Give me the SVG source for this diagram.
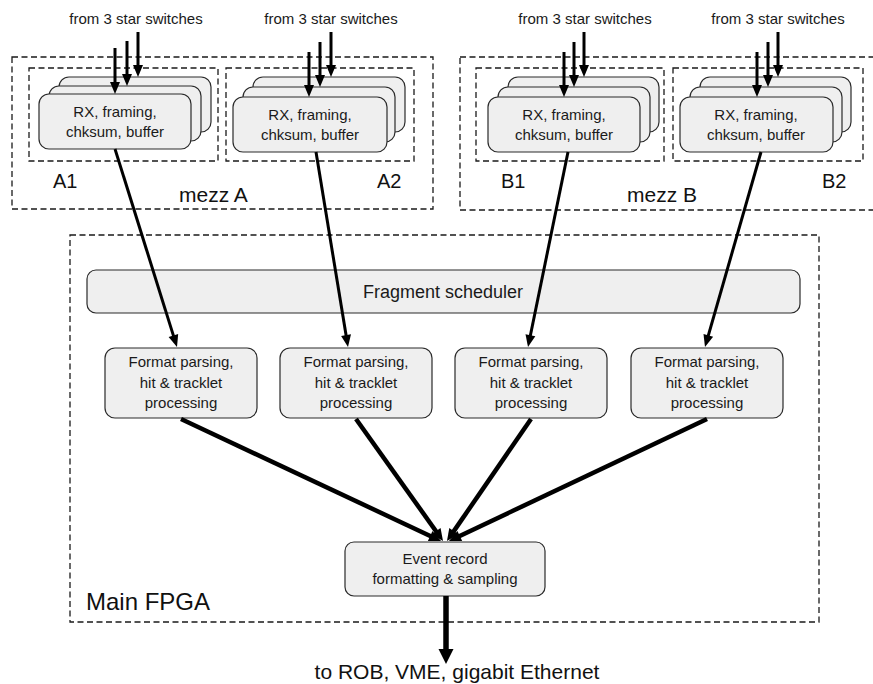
<svg xmlns="http://www.w3.org/2000/svg" width="873" height="684" viewBox="0 0 873 684">
<style>
.bg{fill:#ffffff}
.dash{fill:none;stroke:#1a1a1a;stroke-width:1.3;stroke-dasharray:6 3.5}
.box{fill:#efefef;stroke:#2a2a2a;stroke-width:1.2}
.t{font-family:"Liberation Sans",Arial,sans-serif;fill:#1a1a1a;text-anchor:middle}
.s15{font-size:15px}
.s18{font-size:18px}
.lab{font-family:"Liberation Sans",Arial,sans-serif;fill:#111;font-size:21px}
.thin{stroke:#000;stroke-width:3;fill:none}
.mid{stroke:#000;stroke-width:3;fill:none}
.thick{stroke:#000;stroke-width:4.5;fill:none}
.out{stroke:#000;stroke-width:5.5;fill:none}
</style>
<defs>
<marker id="ah" markerUnits="userSpaceOnUse" markerWidth="12" markerHeight="10" refX="4" refY="5" orient="auto" overflow="visible"><path d="M0,0 L12,5 L0,10 z" fill="#000"/></marker>
<marker id="ahT" markerUnits="userSpaceOnUse" markerWidth="12" markerHeight="11" refX="3" refY="5.5" orient="auto" overflow="visible"><path d="M0,0 L12,5.5 L0,11 z" fill="#000"/></marker>
<marker id="ahO" markerUnits="userSpaceOnUse" markerWidth="15" markerHeight="15" refX="1" refY="7.5" orient="auto" overflow="visible"><path d="M0,0 L15,7.5 L0,15 z" fill="#000"/></marker>
</defs>
<rect class="bg" x="0" y="0" width="873" height="684"/>

<g id="mezzA">
<rect class="dash" x="12" y="57" width="421" height="152"/>
<text class="lab" x="179" y="202">mezz A</text>
</g>
<g id="mezzB">
<rect class="dash" x="460" y="57" width="430" height="153"/>
<text class="lab" x="627" y="202">mezz B</text>
</g>
<g id="mainFPGA">
<rect class="dash" x="70" y="235" width="749" height="387"/>
<text class="lab" x="86" y="610" style="font-size:24px">Main FPGA</text>
</g>

<g id="A1">
<rect class="dash" x="29" y="68" width="189" height="93"/>
<rect class="box" x="59" y="77" width="152" height="55" rx="10"/>
<rect class="box" x="49" y="86" width="152" height="55" rx="10"/>
<rect class="box" x="39" y="94" width="152" height="55" rx="10"/>
<text class="t s15" x="115" y="117">RX, framing,</text>
<text class="t s15" x="115" y="137">chksum, buffer</text>
<text class="lab" x="53" y="188" style="font-size:20px">A1</text>
<text class="t s15" x="136" y="24">from 3 star switches</text>
</g>
<g id="A2">
<rect class="dash" x="226" y="68" width="188" height="93"/>
<rect class="box" x="253" y="77" width="152" height="55" rx="10"/>
<rect class="box" x="243" y="87" width="152" height="55" rx="10"/>
<rect class="box" x="233" y="97" width="154" height="55" rx="10"/>
<text class="t s15" x="310" y="120">RX, framing,</text>
<text class="t s15" x="310" y="140">chksum, buffer</text>
<text class="lab" x="377" y="188" style="font-size:20px">A2</text>
<text class="t s15" x="331" y="24">from 3 star switches</text>
</g>
<g id="B1">
<rect class="dash" x="476" y="68" width="188" height="93"/>
<rect class="box" x="508" y="77" width="151" height="55" rx="10"/>
<rect class="box" x="498" y="87" width="152" height="55" rx="10"/>
<rect class="box" x="488" y="97" width="152" height="55" rx="10"/>
<text class="t s15" x="564" y="120">RX, framing,</text>
<text class="t s15" x="564" y="140">chksum, buffer</text>
<text class="lab" x="501" y="188" style="font-size:20px">B1</text>
<text class="t s15" x="585" y="24">from 3 star switches</text>
</g>
<g id="B2">
<rect class="dash" x="673" y="68" width="190" height="93"/>
<rect class="box" x="700" y="77" width="151" height="55" rx="10"/>
<rect class="box" x="690" y="87" width="152" height="55" rx="10"/>
<rect class="box" x="680" y="97" width="153" height="55" rx="10"/>
<text class="t s15" x="756" y="120">RX, framing,</text>
<text class="t s15" x="756" y="140">chksum, buffer</text>
<text class="lab" x="822" y="188" style="font-size:20px">B2</text>
<text class="t s15" x="778" y="24">from 3 star switches</text>
</g>

<g id="scheduler">
<rect class="box" x="87" y="270" width="713" height="43" rx="9"/>
<text class="t s18" x="443" y="298">Fragment scheduler</text>
</g>
<g id="fmt1">
<rect class="box" x="105" y="348" width="152" height="70" rx="10"/>
<text class="t s15" x="181" y="367">Format parsing,</text>
<text class="t s15" x="181" y="388">hit &amp; tracklet</text>
<text class="t s15" x="181" y="408">processing</text>
</g>
<g id="fmt2">
<rect class="box" x="280" y="348" width="152" height="70" rx="10"/>
<text class="t s15" x="356" y="367">Format parsing,</text>
<text class="t s15" x="356" y="388">hit &amp; tracklet</text>
<text class="t s15" x="356" y="408">processing</text>
</g>
<g id="fmt3">
<rect class="box" x="455" y="348" width="152" height="70" rx="10"/>
<text class="t s15" x="531" y="367">Format parsing,</text>
<text class="t s15" x="531" y="388">hit &amp; tracklet</text>
<text class="t s15" x="531" y="408">processing</text>
</g>
<g id="fmt4">
<rect class="box" x="631" y="348" width="152" height="70" rx="10"/>
<text class="t s15" x="707" y="367">Format parsing,</text>
<text class="t s15" x="707" y="388">hit &amp; tracklet</text>
<text class="t s15" x="707" y="408">processing</text>
</g>
<g id="event">
<rect class="box" x="345" y="542" width="200" height="54" rx="9"/>
<text class="t s15" x="445" y="564">Event record</text>
<text class="t s15" x="445" y="584">formatting &amp; sampling</text>
</g>
<g id="output">
<text class="lab" x="457" y="679" text-anchor="middle">to ROB, VME, gigabit Ethernet</text>
</g>

<g id="connectors">
<line class="thin" x1="115" y1="48" x2="115" y2="86" marker-end="url(#ah)"/>
<line class="thin" x1="127" y1="41" x2="127" y2="78" marker-end="url(#ah)"/>
<line class="thin" x1="138" y1="32" x2="138" y2="69" marker-end="url(#ah)"/>
<line class="thin" x1="309" y1="52" x2="309" y2="89" marker-end="url(#ah)"/>
<line class="thin" x1="320" y1="42" x2="320" y2="79" marker-end="url(#ah)"/>
<line class="thin" x1="331" y1="32" x2="331" y2="69" marker-end="url(#ah)"/>
<line class="thin" x1="564" y1="52" x2="564" y2="89" marker-end="url(#ah)"/>
<line class="thin" x1="574" y1="42" x2="574" y2="79" marker-end="url(#ah)"/>
<line class="thin" x1="584" y1="32" x2="584" y2="69" marker-end="url(#ah)"/>
<line class="thin" x1="757" y1="52" x2="757" y2="89" marker-end="url(#ah)"/>
<line class="thin" x1="768" y1="42" x2="768" y2="79" marker-end="url(#ah)"/>
<line class="thin" x1="778" y1="32" x2="778" y2="69" marker-end="url(#ah)"/>

<line class="mid" x1="115" y1="149" x2="174.6" y2="339.4" marker-end="url(#ah)"/>
<line class="mid" x1="316" y1="152" x2="346.7" y2="339.1" marker-end="url(#ah)"/>
<line class="mid" x1="568" y1="152" x2="529.6" y2="339.2" marker-end="url(#ah)"/>
<line class="mid" x1="761" y1="152" x2="707.2" y2="339.3" marker-end="url(#ah)"/>

<line class="thick" x1="181" y1="419" x2="432.9" y2="537.2" marker-end="url(#ahT)"/>
<line class="thick" x1="356" y1="419" x2="437.8" y2="533.7" marker-end="url(#ahT)"/>
<line class="thick" x1="531" y1="419" x2="452.1" y2="533.6" marker-end="url(#ahT)"/>
<line class="thick" x1="707" y1="419" x2="457.1" y2="537.2" marker-end="url(#ahT)"/>

<line class="out" x1="446" y1="596" x2="446" y2="650" marker-end="url(#ahO)"/>
</g>
</svg>
